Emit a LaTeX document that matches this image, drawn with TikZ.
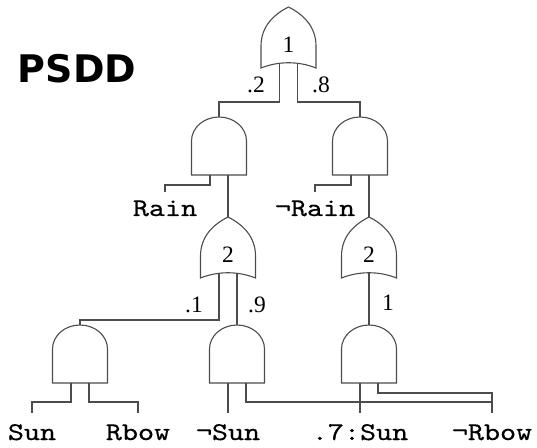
\documentclass[tikz,border=0pt]{standalone}
\usepackage{fontspec}
\newfontfamily\numfont{Liberation Serif}
\newfontfamily\titlefont{DejaVu Sans}
\newfontfamily\leaffont[FakeStretch=1.2,FakeBold=0.5]{lmmono10-regular.otf}
\begin{document}
\begin{tikzpicture}[x=1pt,y=1pt]
\tikzstyle{gate} = [draw=black!70, line width=1.1pt]
\tikzstyle{wire} = [draw=black!70, line width=1.1pt]
\tikzstyle{num} = [font=\numfont\fontsize{23.5}{24}\selectfont, inner sep=0pt]
\tikzstyle{leaf} = [font=\leaffont\fontsize{25.5}{26}\selectfont, anchor=base, inner sep=0pt, text height=27pt, text depth=0pt]
\tikzset{
  andgate/.pic={
    \draw[gate] (-27.5,0) -- (-27.5,34) arc[start angle=180, end angle=0, x radius=27.5, y radius=24] -- (27.5,0) -- cycle;
    \coordinate (-top) at (0,58);
    \coordinate (-l) at (-9,0);
    \coordinate (-r) at (9,0);
  },
  orgate/.pic={
    \draw[gate] (-27.5,0) -- (-27.5,22) .. controls (-27.5,42) and (-14,54) .. (0,61)
      .. controls (14,54) and (27.5,42) .. (27.5,22) -- (27.5,0)
      .. controls (10,7) and (-10,7) .. (-27.5,0) -- cycle;
    \node[num] (-lbl) at (0,23) {\tikzpictext};
    \coordinate (-top) at (0,61);
    \coordinate (-l) at (-9,5);
    \coordinate (-r) at (9,5);
    \coordinate (-out) at (0,5);
  }
}
\useasboundingbox (0,0) rectangle (537,447);

\node (title) at (77,378) {\titlefont\bfseries\fontsize{38}{38}\selectfont PSDD};

% gates
\pic[pic text=1] (or1) at (288.5,379) {orgate};
\pic (and1) at (219,272) {andgate};
\pic (and2) at (360,272) {andgate};
\pic[pic text=2] (or2) at (228,169) {orgate};
\pic[pic text=2] (or3) at (369,169) {orgate};
\pic (and3) at (80,64) {andgate};
\pic (and4) at (237,64) {andgate};
\pic (and5) at (369,64) {andgate};

% literals
\node[leaf, text height=24pt] (rain) at (165,231) {Rain};
\node[leaf, text height=24pt] (nrain) at (315,231) {¬Rain};
\node[leaf] (sun) at (32,7) {Sun};
\node[leaf] (rbow) at (138,7) {Rbow};
\node[leaf] (nsun) at (228,7) {¬Sun};
\node[leaf] (sun7) at (360,7) {.7:Sun};
\node[leaf] (nrbow) at (492,7) {¬Rbow};

% weights
\node[num] (w2) at (256,362) {.2};
\node[num] (w8) at (321,362) {.8};
\node[num] (w1) at (194,142) {.1};
\node[num] (w9) at (257,142) {.9};
\node[num] (w10) at (388,144) {1};

\draw[wire] (or1-l) -- ++(0,-39) -| (and1-top);
\draw[wire] (or1-r) -- ++(0,-39) -| (and2-top);
\draw[wire] (and1-l) -- ++(0,-10) -| (rain.north);
\draw[wire] (and2-l) -- ++(0,-10) -| (nrain.north);
\draw[wire] (and1-r) -- (or2-top);
\draw[wire] (and2-r) -- (or3-top);
\draw[wire] (or2-l) -- ++(0,-47) -| (and3-top);
\draw[wire] (or2-r) -- (and4-top);
\draw[wire] (or3-out) -- (and5-top);
\draw[wire] (and3-l) -- ++(0,-19) -| (sun.north);
\draw[wire] (and3-r) -- ++(0,-19) -| (rbow.north);
\draw[wire] (and4-l) -- (nsun.north);
\draw[wire] (and4-r) -- ++(0,-19) -| (nrbow.north);
\draw[wire] (and5-l) -- (sun7.north);
\draw[wire] (and5-r) -- ++(0,-10) -| (nrbow.north);
\end{tikzpicture}
\end{document}
